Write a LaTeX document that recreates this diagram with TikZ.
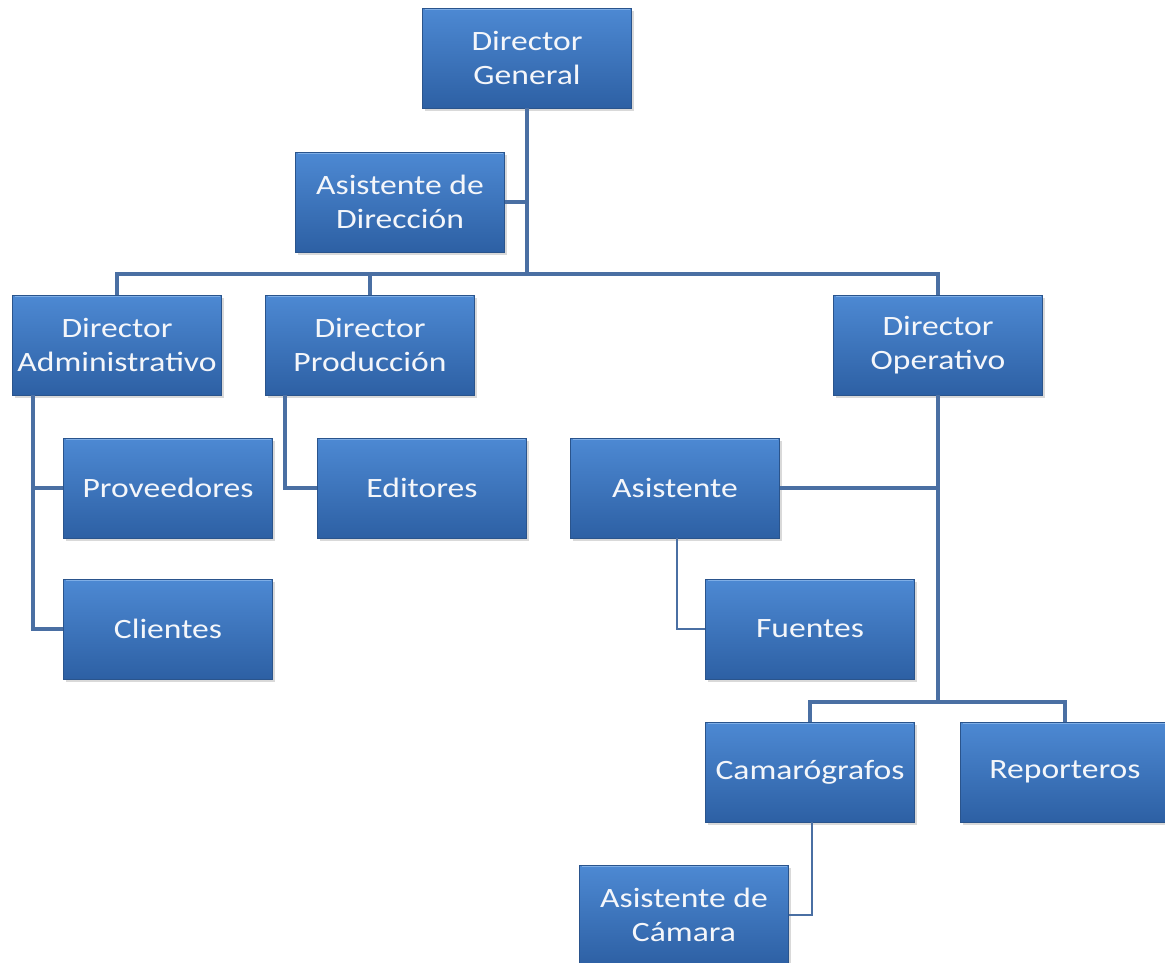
\documentclass[tikz,border=0pt]{standalone}
\usepackage{fontspec}
\setmainfont{Carlito}[FakeStretch=1.2]
\usetikzlibrary{shadows}

\definecolor{boxtop}{HTML}{4D89D3}
\definecolor{boxbot}{HTML}{2D60A4}
\definecolor{boxedge}{HTML}{2A548C}
\definecolor{boxhi}{HTML}{7FAEE6}
\definecolor{linkcol}{HTML}{4A6FA3}
\definecolor{labelcol}{HTML}{F4F6FA}

\begin{document}
\begin{tikzpicture}[x=1pt, y=-1pt,
  orgbox/.style={rectangle, minimum width=209pt, minimum height=100pt,
    inner sep=0pt, top color=boxtop, bottom color=boxbot,
    draw=boxedge, line width=0.8pt, text=labelcol, align=center,
    font=\fontsize{28}{34}\selectfont,
    drop shadow={shadow xshift=2pt, shadow yshift=-3pt, opacity=0.3},
    path picture={
      \draw[boxhi, line width=1.5pt]
        ([xshift=2pt,yshift=-1.5pt]path picture bounding box.north west) --
        ([xshift=-2pt,yshift=-1.5pt]path picture bounding box.north east);
    }},
  link/.style={draw=linkcol, line width=3.2pt},
  thinlink/.style={draw=linkcol, line width=2.6pt}]

\useasboundingbox (0,0) rectangle (1165,962);

% boxes of the organisation chart
\node[orgbox] (dg)   at (527,58)   {Director\\General};
\node[orgbox] (ad)   at (400,202)  {Asistente de\\Dirección};
\node[orgbox] (da)   at (117,345)  {Director\\Administrativo};
\node[orgbox] (dp)   at (370,345)  {Director\\Producción};
\node[orgbox] (do)   at (938,345)  {Director\\Operativo};
\node[orgbox] (prov) at (168,488)  {Proveedores};
\node[orgbox] (edit) at (422,488)  {Editores};
\node[orgbox] (asis) at (675,488)  {Asistente};
\node[orgbox] (cli)  at (168,629)  {Clientes};
\node[orgbox] (fue)  at (810,629)  {Fuentes};
\node[orgbox] (cam)  at (810,772)  {Camarógrafos};
\node[orgbox] (rep)  at (1065,772) {Reporteros};
\node[orgbox] (ac)   at (684,915)  {Asistente de\\Cámara};

% junctions of the two horizontal bars and the side spines
\coordinate (topbar) at (dg.south |- 0,274);
\coordinate (opbar)  at (do.south |- 0,702);
\coordinate (daspine) at ([xshift=-84pt]da.south);
\coordinate (dpspine) at ([xshift=-85pt]dp.south);

% top level
\draw[link] (dg.south) -- (topbar);
\draw[link] (ad.east) -- (ad.east -| dg.south);
\draw[link] (da.north) |- (topbar) -| (do.north);
\draw[link] (dp.north) -- (dp.north |- topbar);

% administration and production
\draw[link] (daspine) |- (prov.west);
\draw[link] (daspine) |- (cli.west);
\draw[link] (dpspine) |- (edit.west);

% operations
\draw[link] (do.south) -- (opbar);
\draw[link] (asis.east) -- (asis.east -| do.south);
\draw[link] (cam.north) |- (opbar) -| (rep.north);
\draw[thinlink] ([xshift=2pt]asis.south) |- (fue.west);
\draw[thinlink] ([xshift=2pt]cam.south) |- (ac.east);
\end{tikzpicture}
\end{document}
